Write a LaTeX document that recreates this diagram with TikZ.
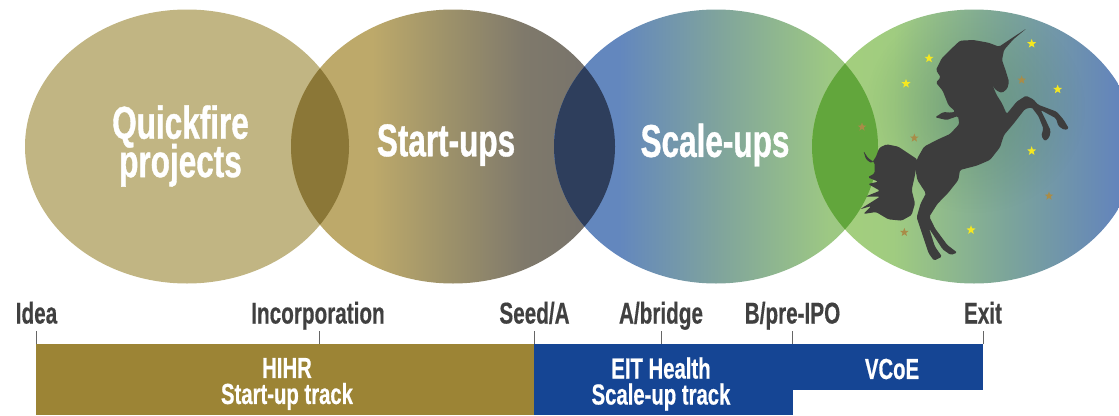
\documentclass[tikz,border=0pt]{standalone}
\usepackage{fontspec}
\newfontfamily\bigfont[FakeStretch=0.685,BoldFont={Liberation Sans Bold},BoldFeatures={FakeStretch=0.685,FakeBold=0.8}]{Liberation Sans}
\newfontfamily\axisfont[FakeStretch=0.69,BoldFont={Liberation Sans Bold},BoldFeatures={FakeStretch=0.69,FakeBold=0.4}]{Liberation Sans}
\newfontfamily\barfont[FakeStretch=0.70,BoldFont={Liberation Sans Bold},BoldFeatures={FakeStretch=0.70,FakeBold=0.5}]{Liberation Sans}
\usetikzlibrary{shapes.geometric,fadings}
\definecolor{cTan}{HTML}{C1B583}
\definecolor{cOv1}{HTML}{8B7737}
\definecolor{cOv2}{HTML}{2E3E5C}
\definecolor{cOv3}{HTML}{62A63C}
\definecolor{cBarGold}{HTML}{9C8435}
\definecolor{cBarBlue}{HTML}{154594}
\definecolor{cText}{HTML}{404040}
\definecolor{cHorse}{HTML}{3D3D3D}
\definecolor{cStarY}{HTML}{F5E820}
\definecolor{cStarB}{HTML}{A98C48}
\definecolor{cSpot}{HTML}{3C6E50}
\definecolor{a1}{HTML}{BDA96A}\definecolor{a2}{HTML}{A0946A}\definecolor{a3}{HTML}{7F796B}\definecolor{a4}{HTML}{75716C}
\definecolor{b1}{HTML}{6387BE}\definecolor{b2}{HTML}{7FA39D}\definecolor{b3}{HTML}{9DC883}
\definecolor{d1}{HTML}{A6D07C}\definecolor{d2}{HTML}{A0CC80}\definecolor{d3}{HTML}{7CA59A}\definecolor{d4}{HTML}{6384BC}
\pgfdeclarehorizontalshading{shadeTwo}{100bp}{color(0bp)=(a1);color(37.5bp)=(a1);color(48bp)=(a2);color(61bp)=(a3);color(75bp)=(a4);color(100bp)=(a4)}
\pgfdeclarehorizontalshading{shadeThree}{100bp}{color(0bp)=(b1);color(35bp)=(b1);color(50bp)=(b2);color(67.5bp)=(b3);color(100bp)=(b3)}
\pgfdeclarehorizontalshading{shadeFour}{100bp}{color(0bp)=(d1);color(25bp)=(d1);color(37.5bp)=(d2);color(55bp)=(d3);color(72.5bp)=(d4);color(100bp)=(d4)}
\tikzfading[name=softspot,inner color=transparent!68,outer color=transparent!100]
\tikzset{
  bigtxt/.style={text=white,font=\bigfont\bfseries\fontsize{46}{35}\selectfont,align=center,inner sep=0pt},
  axistxt/.style={text=cText,font=\axisfont\bfseries\fontsize{30}{30}\selectfont,anchor=base,inner sep=0pt},
  bartxt/.style={text=white,font=\barfont\bfseries\fontsize{29}{27}\selectfont,align=center,inner sep=0pt},
  tick/.style={draw=cText!80,line width=0.7pt},
  staryel/.style={star,star points=5,star point ratio=2.4,fill=cStarY,draw=none,minimum size=9.5pt,inner sep=0pt},
  starbrn/.style={star,star points=5,star point ratio=2.4,fill=cStarB,draw=none,minimum size=9pt,inner sep=0pt},
  horse/.style={fill=cHorse,draw=none}
}
\begin{document}
\begin{tikzpicture}[x=1pt,y=-1pt]
\useasboundingbox (0,0) rectangle (1119,415);
% circles
\fill[cTan] (187,146.5) ellipse[x radius=162,y radius=137];
\shade[shading=shadeTwo,shading angle=0] (453,146.5) ellipse[x radius=162,y radius=137];
\shade[shading=shadeThree,shading angle=0] (716,146.5) ellipse[x radius=162,y radius=137];
\shade[shading=shadeFour,shading angle=0] (974,146.5) ellipse[x radius=162,y radius=137];
\begin{scope}
\clip (974,146.5) ellipse[x radius=162,y radius=137];
\fill[cSpot,path fading=softspot] (975,108) ellipse[x radius=110,y radius=105];
\end{scope}
% overlaps
\begin{scope}
\clip (187,146.5) ellipse[x radius=162,y radius=137];
\fill[cOv1] (453,146.5) ellipse[x radius=162,y radius=137];
\end{scope}
\begin{scope}
\clip (453,146.5) ellipse[x radius=162,y radius=137];
\fill[cOv2] (716,146.5) ellipse[x radius=162,y radius=137];
\end{scope}
\begin{scope}
\clip (716,146.5) ellipse[x radius=162,y radius=137];
\fill[cOv3] (974,146.5) ellipse[x radius=162,y radius=137];
\end{scope}
% stars
\begin{scope}[shift={(800,0)},x=0.33333pt,y=-0.33333pt]
\node[staryel] (sy1) at (695,131) {};
\node[staryel] (sy2) at (387,175) {};
\node[staryel] (sy3) at (318,251) {};
\node[staryel] (sy4) at (773,268) {};
\node[staryel] (sy5) at (695,453) {};
\node[staryel] (sy6) at (513,690) {};
\node[starbrn] (sb1) at (665,240) {};
\node[starbrn] (sb2) at (186,381) {};
\node[starbrn] (sb3) at (343,414) {};
\node[starbrn] (sb4) at (747,588) {};
\node[starbrn] (sb5) at (313,697) {};
% unicorn body, neck, head, legs
\fill[horse,rounded corners=1.5pt] (680,85) -- (640,118) -- (612,150) -- (606,180) -- (618,215) -- (627,245) -- (622,266) -- (606,279) -- (588,271) -- (577,255)
 -- (590,285) -- (606,310) -- (620,342) -- (650,305) -- (678,287) -- (700,298) -- (714,314) -- (770,335) -- (790,358) -- (807,386) -- (793,390) -- (775,378) -- (768,355) -- (722,330)
 -- (738,362) -- (752,392) -- (748,412) -- (735,424) -- (724,408) -- (730,385) -- (715,348) -- (695,322) -- (675,327) -- (640,372) -- (612,405) -- (600,442) -- (570,480) -- (530,497) -- (480,510)
 -- (475,540) -- (445,578) -- (412,612) -- (388,650) -- (405,685) -- (442,735) -- (472,758) -- (452,765) -- (428,748) -- (387,685) -- (405,740) -- (426,770) -- (402,782) -- (386,760) -- (350,652)
 -- (362,610) -- (378,580) -- (352,540) -- (345,500) -- (352,475) -- (372,440) -- (410,420) -- (450,402) -- (478,372) -- (474,348) -- (440,360) -- (405,352) -- (430,336) -- (452,338) -- (466,335)
 -- (445,315) -- (428,272) -- (408,248) -- (422,232) -- (408,210) -- (425,175) -- (450,150) -- (480,122) -- (520,120) -- (565,128) -- (597,140) -- cycle;
% tail
\fill[horse,rounded corners=1.5pt] (352,478) -- (325,460) -- (295,440) -- (260,433) -- (238,443) -- (228,470) -- (215,490) -- (198,478) -- (190,452) -- (204,474) -- (224,488) -- (224,520)
 -- (203,532) -- (235,545) -- (204,552) -- (240,572) -- (196,590) -- (240,590) -- (180,628) -- (214,618) -- (190,642) -- (228,636) -- (265,658) -- (305,662) -- (335,645) -- (345,610) -- (335,570) -- (345,525) -- cycle;
\end{scope}
% big texts
\node[bigtxt] (t1) at (180.5,146) {Quickfire\\[-5pt]projects};
\node[bigtxt] (t2) at (446,145) {Start-ups};
\node[bigtxt] (t3) at (715,145) {Scale-ups};
% bars
\fill[cBarGold] (36,344) rectangle (534,415);
\fill[cBarBlue] (534,344) rectangle (793,415);
\fill[cBarBlue] (793,344) rectangle (983,390);
% ticks
\coordinate (k1a) at (36.5,331); \coordinate (k1b) at (36.5,344);
\coordinate (k2a) at (319,331); \coordinate (k2b) at (319,344);
\coordinate (k3a) at (534.5,331); \coordinate (k3b) at (534.5,344);
\coordinate (k4a) at (661,331); \coordinate (k4b) at (661,344);
\coordinate (k5a) at (792.5,331); \coordinate (k5b) at (792.5,344);
\coordinate (k6a) at (983,331); \coordinate (k6b) at (983,344);
\draw[tick] (k1a) -- (k1b);
\draw[tick] (k2a) -- (k2b);
\draw[tick] (k3a) -- (k3b);
\draw[tick] (k4a) -- (k4b);
\draw[tick] (k5a) -- (k5b);
\draw[tick] (k6a) -- (k6b);
% axis labels
\node[axistxt] (l1) at (36.5,323.5) {Idea};
\node[axistxt] (l2) at (318,323.5) {Incorporation};
\node[axistxt] (l3) at (534.5,323.5) {Seed/A};
\node[axistxt] (l4) at (661,323.5) {A/bridge};
\node[axistxt] (l5) at (792.5,323.5) {B/pre-IPO};
\node[axistxt] (l6) at (983,323.5) {Exit};
% bar labels
\node[bartxt] (b1) at (287,384) {HIHR\\[-1pt]Start-up track};
\node[bartxt] (b2) at (661,384) {EIT Health\\[-1pt]Scale-up track};
\node[bartxt] (b3) at (892,369) {VCoE};
\end{tikzpicture}
\end{document}
